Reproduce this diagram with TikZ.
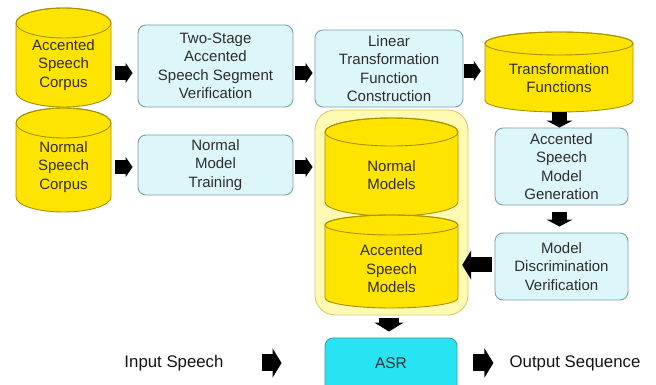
\documentclass[tikz,border=0pt]{standalone}
\usepackage{fontspec}
\setmainfont{Liberation Sans}
\usetikzlibrary{arrows.meta,calc}
\definecolor{cylfill}{RGB}{255,228,0}
\definecolor{cylline}{RGB}{165,145,0}
\definecolor{boxfill}{RGB}{221,246,250}
\definecolor{boxline}{RGB}{120,160,168}
\definecolor{contfill}{RGB}{255,250,178}
\definecolor{contline}{RGB}{218,200,110}
\definecolor{asrfill}{RGB}{40,228,242}
\definecolor{asrline}{RGB}{50,160,175}
\definecolor{txt}{RGB}{45,45,45}
\definecolor{outtxtcol}{RGB}{20,20,20}
\tikzset{
  cyl/.style={fill=cylfill, draw=cylline, line width=0.9pt},
  bbox/.style={rectangle, rounded corners=8pt, fill=boxfill, draw=boxline, line width=0.9pt,
    inner sep=0pt, align=center, text=txt, font=\fontsize{15}{18.5}\selectfont},
  lbl/.style={align=center, text=txt, font=\fontsize{15}{18.5}\selectfont, inner sep=0pt},
  outlbl/.style={text=outtxtcol, font=\fontsize{16.8}{20}\selectfont, inner sep=0pt},
  contbox/.style={rectangle, rounded corners=20pt, fill=contfill, draw=contline, line width=0.9pt},
  asrbox/.style={rectangle, rounded corners=8pt, fill=asrfill, draw=asrline, line width=0.9pt},
  barrow/.style={line width=14pt, -{Triangle[width=20pt,length=7pt]}},
  vbarrow/.style={line width=15pt, -{Triangle[width=26pt,length=7pt]}},
  bigarrow/.style={line width=17pt, -{Triangle[width=29pt,length=9pt]}},
}
\newcommand\mycyl[6]{%
  \pgfmathsetmacro\cylcx{(#2+#3)/2}%
  \pgfmathsetmacro\cylrx{(#3-#2)/2}%
  \pgfmathsetmacro\cylcy{(#4+#5)/2}%
  \pgfmathsetmacro\cylw{#3-#2}%
  \pgfmathsetmacro\cylh{#4-#5}%
  \filldraw[cyl] (#2,#4-#6) -- (#2,#5+#6)
     arc[start angle=180,end angle=360,x radius=\cylrx,y radius=#6]
     -- (#3,#4-#6)
     arc[start angle=0,end angle=180,x radius=\cylrx,y radius=#6] -- cycle;
  \draw[cyl,fill=none] (\cylcx,#4-#6) ellipse[x radius=\cylrx,y radius=#6];
  \node[inner sep=0pt,minimum width=\cylw pt,minimum height=\cylh pt] (#1) at (\cylcx,\cylcy) {};
}
\begin{document}
\begin{tikzpicture}[x=1pt,y=1pt]
\path[use as bounding box, fill=white] (0,0) rectangle (656,385);

% left cylinders
\mycyl{acc}{16}{111}{377}{278}{15}
\node[lbl] (acclbl) at (63.5,320) {Accented\\Speech\\Corpus};
\mycyl{nor}{16}{111}{277}{173}{15}
\node[lbl] (norlbl) at (63.5,218) {Normal\\Speech\\Corpus};

% blue boxes
\node[bbox, minimum width=155pt, minimum height=82pt] (two) at (215.5,319) {Two-Stage\\Accented\\Speech Segment\\Verification};
\node[bbox, minimum width=155pt, minimum height=60pt] (nmt) at (215.5,220) {Normal\\Model\\Training};
\node[bbox, minimum width=148pt, minimum height=77pt] (lin) at (389,316.5) {Linear\\Transformation\\Function\\Construction};

% transformation functions cylinder
\mycyl{trf}{485}{633}{353}{273}{11.5}
\node[lbl] (trflbl) at (559,307) {Transformation\\Functions};

\node[bbox, minimum width=133pt, minimum height=77pt] (gen) at (561.5,218.5) {Accented\\Speech\\Model\\Generation};
\node[bbox, minimum width=133pt, minimum height=67pt] (dis) at (561.5,118.5) {Model\\Discrimination\\Verification};

% container
\node[contbox, minimum width=153pt, minimum height=205pt] (cont) at (391.5,172.5) {};
\mycyl{nmod}{325}{458}{267}{169}{14}
\node[lbl] (nmodlbl) at (391.5,210) {Normal\\Models};
\mycyl{amod}{325}{458}{170}{77}{10}
\node[lbl] (amodlbl) at (391.5,116) {Accented\\Speech\\Models};

% ASR row
\node[asrbox, minimum width=132pt, minimum height=57pt] (asr) at (391,18.5) {};
\node[lbl, font=\fontsize{15.5}{18}\selectfont] (asrlbl) at (391,22) {ASR};
\node[outlbl] (inp) at (174,22) {Input Speech};
\node[outlbl] (outp) at (575,22) {Output Sequence};

% arrows
\coordinate (r1) at (0,312);
\coordinate (r2) at (0,218);
\coordinate (r3) at (0,314);
\coordinate (r4) at (0,120);
\coordinate (r5) at (0,22);
\coordinate (c1) at (559.5,0);
\coordinate (c2) at (389,0);

\draw[barrow, shorten <=4pt, shorten >=5pt] (acc.east |- r1) -- (two.west |- r1);
\draw[barrow, shorten <=4pt, shorten >=5pt] (nor.east |- r2) -- (nmt.west |- r2);
\draw[barrow, shorten <=2pt, shorten >=2pt] (two.east |- r1) -- (lin.west |- r1);
\draw[barrow, shorten <=2pt, shorten >=2pt] (nmt.east |- r2) -- (cont.west |- r2);
\draw[barrow, shorten <=1pt, shorten >=4pt] (lin.east |- r3) -- (trf.west |- r3);
\draw[vbarrow] (trf.south -| c1) -- (gen.north -| c1);
\draw[vbarrow, shorten <=7pt, shorten >=6pt] (gen.south -| c1) -- (dis.north -| c1);
\draw[bigarrow, line width=15pt, shorten <=3pt, shorten >=4pt] (dis.west |- r4) -- (amod.east |- r4);
\draw[bigarrow, line width=20pt, shorten <=3pt, shorten >=6pt] (cont.south -| c2) -- (asr.north -| c2);
\draw[bigarrow, shorten <=38pt, shorten >=43pt] (inp.east |- r5) -- (asr.west |- r5);
\draw[bigarrow, shorten <=16pt, shorten >=16pt] (asr.east |- r5) -- (outp.west |- r5);
\end{tikzpicture}
\end{document}
